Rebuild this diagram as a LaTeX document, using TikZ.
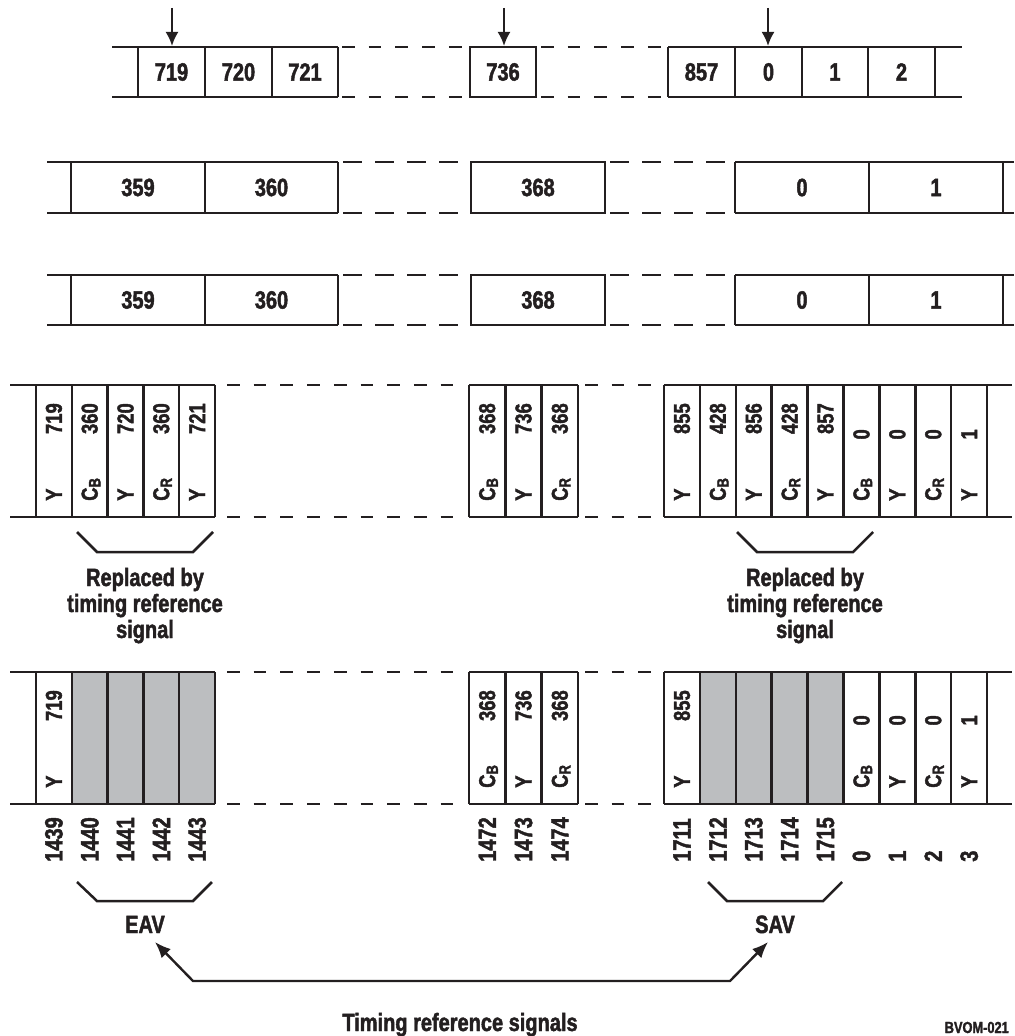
\documentclass[tikz,border=0pt]{standalone}
\usepackage{fontspec}
\setmainfont{Liberation Sans}[FakeStretch=0.8, BoldFeatures={FakeBold=1.8}]
\usetikzlibrary{arrows.meta}
\definecolor{ink}{HTML}{231F20}
\definecolor{cellgrey}{HTML}{BCBEC0}
\newcommand\CB{C\smash{\raisebox{-0.12em}{\fontsize{8.2}{9}\selectfont B}}}
\newcommand\CR{C\smash{\raisebox{-0.12em}{\fontsize{8.2}{9}\selectfont R}}}
\begin{document}
\begin{tikzpicture}[x=0.5pt,y=-0.5pt,color=ink,line width=1.25pt,
  lbl/.style={font=\bfseries\fontsize{12.5}{15}\selectfont,inner sep=0pt},
  small/.style={font=\bfseries\fontsize{8}{10}\selectfont,inner sep=0pt},
  rlbl/.style={font=\bfseries\fontsize{11.5}{13}\selectfont,inner sep=0pt,rotate=90},
  rbig/.style={lbl,rotate=90,anchor=west},
  dashA/.style={dash pattern=on 6.35pt off 7pt},
  dashB/.style={dash pattern=on 9.5pt off 6.5pt},
  arr/.style={-{Latex[length=7pt,width=6.5pt]},line width=1.1pt},
  darr/.style={{Latex[length=8pt,width=6.5pt]}-{Latex[length=8pt,width=6.5pt]},line width=1.2pt},
]
\useasboundingbox (0,0) rectangle (1014,1036);

% ---------------- Row 1 ----------------
\draw (112,47) -- (338,47) (112,97) -- (338,97);
\foreach \x in {138,205,272,338} \draw (\x,47) -- (\x,97);
\draw[dashA] (342,47) -- (462,47) (342,97) -- (462,97);
\draw (470,47) rectangle (536,97);
\draw[dashA] (541,47) -- (662,47) (541,97) -- (662,97);
\draw (668,47) -- (962,47) (668,97) -- (962,97);
\foreach \x in {668,735,802,868,935} \draw (\x,47) -- (\x,97);
\node[lbl] (t719) at (171.5,72) {719};
\node[lbl] (t720) at (238.5,72) {720};
\node[lbl] (t721) at (305,72) {721};
\node[lbl] (t736) at (503,72) {736};
\node[lbl] (t857) at (701.5,72) {857};
\node[lbl] (t0)   at (768.5,72) {0};
\node[lbl] (t1)   at (835,72) {1};
\node[lbl] (t2)   at (901.5,72) {2};
\coordinate (a1s) at (172,8);  \coordinate (a1e) at (172,46);
\coordinate (a2s) at (504,8);  \coordinate (a2e) at (504,46);
\coordinate (a3s) at (768,8);  \coordinate (a3e) at (768,46);
\draw[arr] (a1s) -- (a1e);
\draw[arr] (a2s) -- (a2e);
\draw[arr] (a3s) -- (a3e);

% ---------------- Rows 2 and 3 ----------------
\foreach \yt/\yb/\r in {162/213/b,275/325/c} {
  \draw (47,\yt) -- (338,\yt) (47,\yb) -- (338,\yb);
  \foreach \x in {71,205,338} \draw (\x,\yt) -- (\x,\yb);
  \draw[dashB] (343,\yt) -- (466,\yt) (343,\yb) -- (466,\yb);
  \draw (471,\yt) rectangle (605,\yb);
  \draw[dashB] (610,\yt) -- (730,\yt) (610,\yb) -- (730,\yb);
  \draw (735,\yt) -- (1014,\yt) (735,\yb) -- (1014,\yb);
  \foreach \x in {735,869,1003} \draw (\x,\yt) -- (\x,\yb);
  \pgfmathsetmacro\ym{(\yt+\yb)/2}
  \node[lbl] (\r359) at (138,\ym) {359};
  \node[lbl] (\r360) at (271.5,\ym) {360};
  \node[lbl] (\r368) at (538,\ym) {368};
  \node[lbl] (\r0)   at (802,\ym) {0};
  \node[lbl] (\r1)   at (936,\ym) {1};
}

% ---------------- Row 4 ----------------
\draw (10,385) -- (215,385) (10,517) -- (215,517);
\foreach \x in {36,71.8,107.6,143.4,179.2,215} \draw (\x,385) -- (\x,517);
\draw[dashA] (227,385) -- (466,385) (227,517) -- (466,517);
\draw (469,385) -- (578,385) (469,517) -- (578,517);
\foreach \x in {469,505.3,541.7,578} \draw (\x,385) -- (\x,517);
\draw[dashA] (585,385) -- (652,385) (585,517) -- (652,517);
\draw (664,385) -- (1012,385) (664,517) -- (1012,517);
\foreach \i in {0,...,9} {\pgfmathsetmacro\x{664+35.9*\i} \draw (\x,385) -- (\x,517);}

\foreach \nm/\nu [count=\i from 0] in {Y/719,\CB/360,Y/720,\CR/360,Y/721} {
  \pgfmathsetmacro\cx{53.9+35.8*\i}
  \node[rlbl,anchor=west] (dn\i) at (\cx,502) {\nm};
  \node[rlbl,anchor=east] (dv\i) at (\cx,402) {\nu};
}
\foreach \nm/\nu [count=\i from 0] in {\CB/368,Y/736,\CR/368} {
  \pgfmathsetmacro\cx{487.2+36.33*\i}
  \node[rlbl,anchor=west] (dmn\i) at (\cx,502) {\nm};
  \node[rlbl,anchor=east] (dmv\i) at (\cx,402) {\nu};
}
\foreach \nm/\nu/\tp [count=\i from 0] in {Y/855/402,\CB/428/402,Y/856/402,\CR/428/402,Y/857/402,\CB/0/428,Y/0/428,\CR/0/428,Y/1/428} {
  \pgfmathsetmacro\cx{681.95+35.9*\i}
  \node[rlbl,anchor=west] (drn\i) at (\cx,502) {\nm};
  \node[rlbl,anchor=east] (drv\i) at (\cx,\tp) {\nu};
}

% braces and notes under row 4
\coordinate (bl1) at (77,532); \coordinate (bl2) at (97,552);
\coordinate (bl3) at (193,552); \coordinate (bl4) at (213,532);
\draw (bl1) -- (bl2) -- (bl3) -- (bl4);
\coordinate (br1) at (737,532); \coordinate (br2) at (757,552);
\coordinate (br3) at (853,552); \coordinate (br4) at (873,532);
\draw (br1) -- (br2) -- (br3) -- (br4);
\node[lbl,anchor=base] (rl1) at (145,586) {Replaced by};
\node[lbl,anchor=base] (rl2) at (145,612) {timing reference};
\node[lbl,anchor=base] (rl3) at (145,638) {signal};
\node[lbl,anchor=base] (rr1) at (805,586) {Replaced by};
\node[lbl,anchor=base] (rr2) at (805,612) {timing reference};
\node[lbl,anchor=base] (rr3) at (805,638) {signal};

% ---------------- Row 5 ----------------
\fill[cellgrey] (71.8,672) rectangle (215,804);
\fill[cellgrey] (699.9,672) rectangle (843.5,804);
\draw (10,672) -- (215,672) (10,804) -- (215,804);
\foreach \x in {36,71.8,107.6,143.4,179.2,215} \draw (\x,672) -- (\x,804);
\draw[dashA] (227,672) -- (466,672) (227,804) -- (466,804);
\draw (469,672) -- (578,672) (469,804) -- (578,804);
\foreach \x in {469,505.3,541.7,578} \draw (\x,672) -- (\x,804);
\draw[dashA] (585,672) -- (652,672) (585,804) -- (652,804);
\draw (664,672) -- (1012,672) (664,804) -- (1012,804);
\foreach \i in {0,...,9} {\pgfmathsetmacro\x{664+35.9*\i} \draw (\x,672) -- (\x,804);}

\node[rlbl,anchor=west] (en0) at (53.9,789) {Y};
\node[rlbl,anchor=east] (ev0) at (53.9,689) {719};
\foreach \nm/\nu [count=\i from 0] in {\CB/368,Y/736,\CR/368} {
  \pgfmathsetmacro\cx{487.2+36.33*\i}
  \node[rlbl,anchor=west] (emn\i) at (\cx,789) {\nm};
  \node[rlbl,anchor=east] (emv\i) at (\cx,689) {\nu};
}
\node[rlbl,anchor=west] (ern0) at (681.95,789) {Y};
\node[rlbl,anchor=east] (erv0) at (681.95,689) {855};
\foreach \nm/\nu [count=\i from 5] in {\CB/0,Y/0,\CR/0,Y/1} {
  \pgfmathsetmacro\cx{681.95+35.9*\i}
  \node[rlbl,anchor=west] (ern\i) at (\cx,789) {\nm};
  \node[rlbl,anchor=east] (erv\i) at (\cx,714) {\nu};
}

% ---------------- Sample numbers ----------------
\foreach \v [count=\i from 0] in {1439,1440,1441,1442,1443} {
  \pgfmathsetmacro\cx{53.9+35.8*\i}
  \node[rbig] (sa\i) at (\cx,863) {\v};
}
\foreach \v [count=\i from 0] in {1472,1473,1474} {
  \pgfmathsetmacro\cx{487.2+36.33*\i}
  \node[rbig] (sb\i) at (\cx,863) {\v};
}
\foreach \v [count=\i from 0] in {1711,1712,1713,1714,1715,0,1,2,3} {
  \pgfmathsetmacro\cx{681.95+35.9*\i}
  \node[rbig] (sc\i) at (\cx,863) {\v};
}

% EAV / SAV braces
\coordinate (be1) at (77,882); \coordinate (be2) at (97,901);
\coordinate (be3) at (193,901); \coordinate (be4) at (212,882);
\draw (be1) -- (be2) -- (be3) -- (be4);
\coordinate (bs1) at (708,882); \coordinate (bs2) at (727,901);
\coordinate (bs3) at (823,901); \coordinate (bs4) at (842,882);
\draw (bs1) -- (bs2) -- (bs3) -- (bs4);
\node[lbl,anchor=base] (eav) at (145,933) {EAV};
\node[lbl,anchor=base] (sav) at (775,933) {SAV};

% timing reference arrow
\coordinate (te) at (155,942);
\coordinate (c1) at (193,981);
\coordinate (c2) at (730,981);
\coordinate (ts) at (768,942);
\draw[darr] (te) -- (c1) -- (c2) -- (ts);
\node[lbl,anchor=base] (cap) at (460,1031) {Timing reference signals};
\node[small,anchor=base east] (code) at (1010,1033) {BVOM-021};
\end{tikzpicture}
\end{document}
